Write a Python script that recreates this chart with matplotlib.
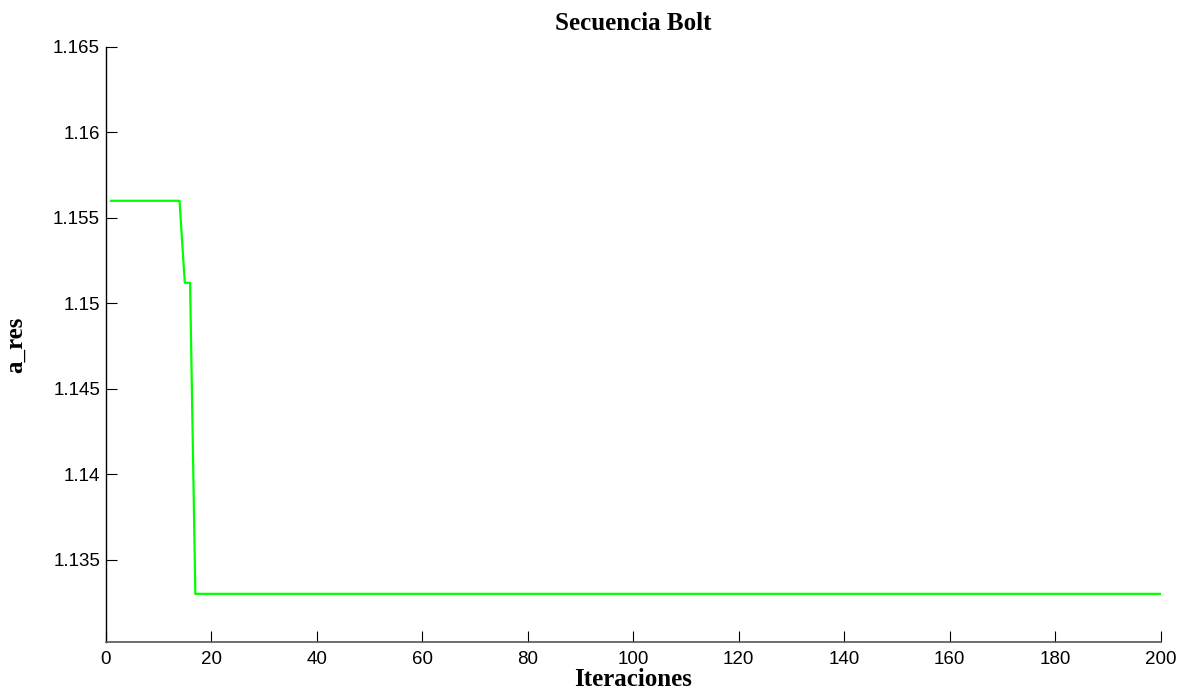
import matplotlib
matplotlib.use("Agg")
import matplotlib.pyplot as plt

# Breakpoints of the step-shaped convergence curve (iteration, a_res)
iteraciones = [1, 14, 15, 16, 17, 200]
a_res = [1.1560, 1.1560, 1.1512, 1.1512, 1.1330, 1.1330]

x_ticks = [0, 20, 40, 60, 80, 100, 120, 140, 160, 180, 200]
y_ticks = [1.135, 1.14, 1.145, 1.15, 1.155, 1.16, 1.165]
y_tick_labels = ["1.135", "1.14", "1.145", "1.15", "1.155", "1.16", "1.165"]

serif = ["Liberation Serif", "DejaVu Serif"]
sans = ["Liberation Sans", "DejaVu Sans"]

fig = plt.figure(figsize=(11.82, 6.95), dpi=100)
ax = fig.add_axes([0.0894, 0.0767, 0.8926, 0.8557])

ax.plot(iteraciones, a_res, color="#00ff00", linewidth=1.6)

ax.set_xlim(0, 200)
ax.set_ylim(1.1302, 1.165)
ax.set_xticks(x_ticks)
ax.set_xticklabels([str(t) for t in x_ticks], fontfamily=sans, fontsize=13.5)
ax.set_yticks(y_ticks)
ax.set_yticklabels(y_tick_labels, fontfamily=sans, fontsize=13.5)

ax.tick_params(axis="both", direction="in", length=8, width=0.8, color="black")
ax.tick_params(axis="x", pad=7)
ax.tick_params(axis="y", pad=4)

for side in ("top", "right"):
    ax.spines[side].set_visible(False)
ax.spines["left"].set_color("black")
ax.spines["left"].set_linewidth(1.0)
ax.spines["bottom"].set_color("#555555")
ax.spines["bottom"].set_linewidth(1.2)

ax.set_title("Secuencia Bolt", fontfamily=serif, fontweight="bold", fontsize=18, pad=12)
ax.set_xlabel("Iteraciones", fontfamily=serif, fontweight="bold", fontsize=18, labelpad=0)
ax.set_ylabel("a_res", fontfamily=serif, fontweight="bold", fontsize=18)
ax.yaxis.set_label_coords(-0.075, 0.5)

fig.savefig("out.png", dpi=100)
